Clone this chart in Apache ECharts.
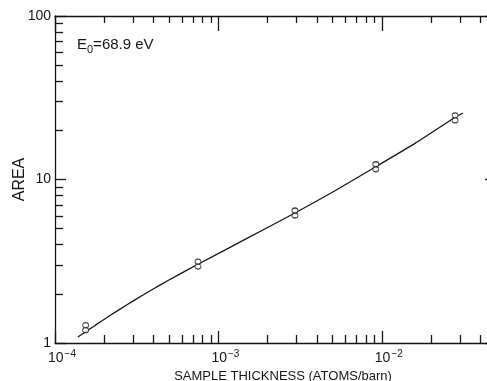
<!DOCTYPE html>
<html><head><meta charset="utf-8">
<script src="https://cdn.jsdelivr.net/npm/echarts@6/dist/echarts.min.js"></script>
<style>html,body{margin:0;padding:0;background:#fff}#c{width:487px;height:381px}</style>
</head><body><div id="c"></div>
<script>
// ---- data ----
const xMajorTicks = [1e-4, 1e-3, 1e-2];
const xMajorExp = ['−4', '−3', '−2'];
const xMinorTicks = [2e-4,3e-4,4e-4,5e-4,6e-4,7e-4,8e-4,9e-4,
                     2e-3,3e-3,4e-3,5e-3,6e-3,7e-3,8e-3,9e-3,
                     2e-2,3e-2,4e-2];
const yMajorTicks = [1, 10, 100];
const yTickLabels = ['1', '10', '100'];
const yMinorTicks = [2,3,4,5,6,7,8,9,20,30,40,50,60,70,80,90];
const thickness = [1.54e-4, 7.5e-4, 2.94e-3, 9.19e-3, 2.81e-2];
const area = [1.24, 3.04, 6.24, 11.97, 23.8];
const fitX = [1.38e-4, 1.757e-4, 2.17e-4, 2.758e-4, 3.456e-4, 4.391e-4, 5.58e-4, 7.5e-4,
              1.475e-3, 2.94e-3, 5.17e-3, 9.19e-3, 1.596e-2, 2.77e-2, 3.14e-2];
const fitY = [1.088, 1.281, 1.473, 1.713, 1.966, 2.261, 2.584, 3.03,
              4.33, 6.24, 8.53, 11.97, 16.63, 23.8, 25.5];
const xTitle = 'SAMPLE THICKNESS (ATOMS/barn)';
const yTitle = 'AREA';

// ---- chart ----
const ink = '#161616';
const FONT = 'Liberation Sans';
const X_MIN = 1e-4, X_MAX = 5e-2, Y_MIN = 1, Y_MAX = 100;

function xAxis(pos, ticks, len, extra) {
  return Object.assign({
    type: 'log', logBase: 10, min: X_MIN, max: X_MAX, position: pos,
    axisLine: { show: true, onZero: false, lineStyle: { color: ink, width: 1.3 } },
    axisTick: { show: true, inside: true, length: len, customValues: ticks, lineStyle: { color: ink, width: 1.3 } },
    axisLabel: { show: false },
    splitLine: { show: false }, minorTick: { show: false }, minorSplitLine: { show: false }
  }, extra || {});
}
function yAxis(pos, ticks, len, extra) {
  return Object.assign({
    type: 'log', logBase: 10, min: Y_MIN, max: Y_MAX, position: pos,
    axisLine: { show: true, onZero: false, lineStyle: { color: ink, width: 1.3 } },
    axisTick: { show: true, inside: true, length: len, customValues: ticks, lineStyle: { color: ink, width: 1.3 } },
    axisLabel: { show: false },
    splitLine: { show: false }, minorTick: { show: false }, minorSplitLine: { show: false }
  }, extra || {});
}

const symbolPath = 'path://M0,2.5a2.5,2.5 0 1,0 5,0a2.5,2.5 0 1,0 -5,0M0,7.5a2.5,2.5 0 1,0 5,0a2.5,2.5 0 1,0 -5,0';

const chart = echarts.init(document.getElementById('c'), null, { renderer: 'canvas' });
chart.setOption({
  backgroundColor: '#fff',
  animation: false,
  textStyle: { fontFamily: FONT, color: ink },
  grid: { left: 55, top: 16, right: -9, bottom: 38, containLabel: false, outerBoundsMode: 'none' },
  xAxis: [
    xAxis('bottom', xMajorTicks, 12, {
      axisLabel: {
        show: true, customValues: xMajorTicks, margin: 6,
        formatter: v => '{b|10}{s|' + xMajorExp[xMajorTicks.findIndex(t => Math.abs(Math.log10(t) - Math.log10(v)) < 1e-6)] + '}',
        padding: [0, 0, 0, 14],
        rich: {
          b: { fontSize: 14, fontFamily: FONT, color: ink, lineHeight: 16, verticalAlign: 'bottom' },
          s: { fontSize: 10, fontFamily: FONT, color: ink, lineHeight: 16, verticalAlign: 'top', padding: [0, 0, 6, 1] }
        }
      },
      name: xTitle, nameLocation: 'middle', nameGap: 27, nameMoveOverlap: false,
      nameTextStyle: { fontSize: 13, fontFamily: FONT, color: ink, padding: [0, 0, 0, 15] }
    }),
    xAxis('bottom', xMinorTicks, 8, { axisLine: { show: false } }),
    xAxis('top', xMajorTicks, 15),
    xAxis('top', xMinorTicks, 7, { axisLine: { show: false } })
  ],
  yAxis: [
    yAxis('left', yMajorTicks, 11, {
      axisLabel: {
        show: true, customValues: yMajorTicks, margin: 4,
        formatter: v => yTickLabels[yMajorTicks.findIndex(t => Math.abs(t - v) < 1e-6 * t)],
        fontSize: 14, fontFamily: FONT, color: ink
      },
      name: yTitle, nameLocation: 'middle', nameGap: 27, nameRotate: 90, nameMoveOverlap: false,
      nameTextStyle: { fontSize: 16, fontFamily: FONT, color: ink, padding: [0, 0, 0, 0] }
    }),
    yAxis('left', yMinorTicks, 8, { axisLine: { show: false } }),
    yAxis('right', yMajorTicks, 11),
    yAxis('right', yMinorTicks, 7, { axisLine: { show: false } })
  ],
  graphic: [{
    type: 'text', left: 77, top: 37,
    style: {
      text: '{e|E}{o|0}{t|=68.9 eV}',
      rich: {
        e: { fontSize: 15, fontFamily: FONT, fill: ink, lineHeight: 18, verticalAlign: 'top' },
        o: { fontSize: 11, fontFamily: FONT, fill: ink, lineHeight: 18, verticalAlign: 'bottom', padding: [7, 0, 0, 0] },
        t: { fontSize: 15, fontFamily: FONT, fill: ink, lineHeight: 18, verticalAlign: 'top' }
      }
    }
  }],
  series: [
    {
      type: 'line', xAxisIndex: 0, yAxisIndex: 0,
      data: fitX.map((x, i) => [x, fitY[i]]),
      smooth: 0.2, showSymbol: false, symbol: 'none',
      lineStyle: { color: ink, width: 1.3 }, z: 2, silent: true
    },
    {
      type: 'scatter', xAxisIndex: 0, yAxisIndex: 0,
      data: thickness.map((x, i) => [x, area[i]]),
      symbol: symbolPath, symbolSize: [6, 10],
      itemStyle: { color: '#fff', borderColor: ink, borderWidth: 1 }, z: 3
    }
  ]
});
</script>
</body></html>
